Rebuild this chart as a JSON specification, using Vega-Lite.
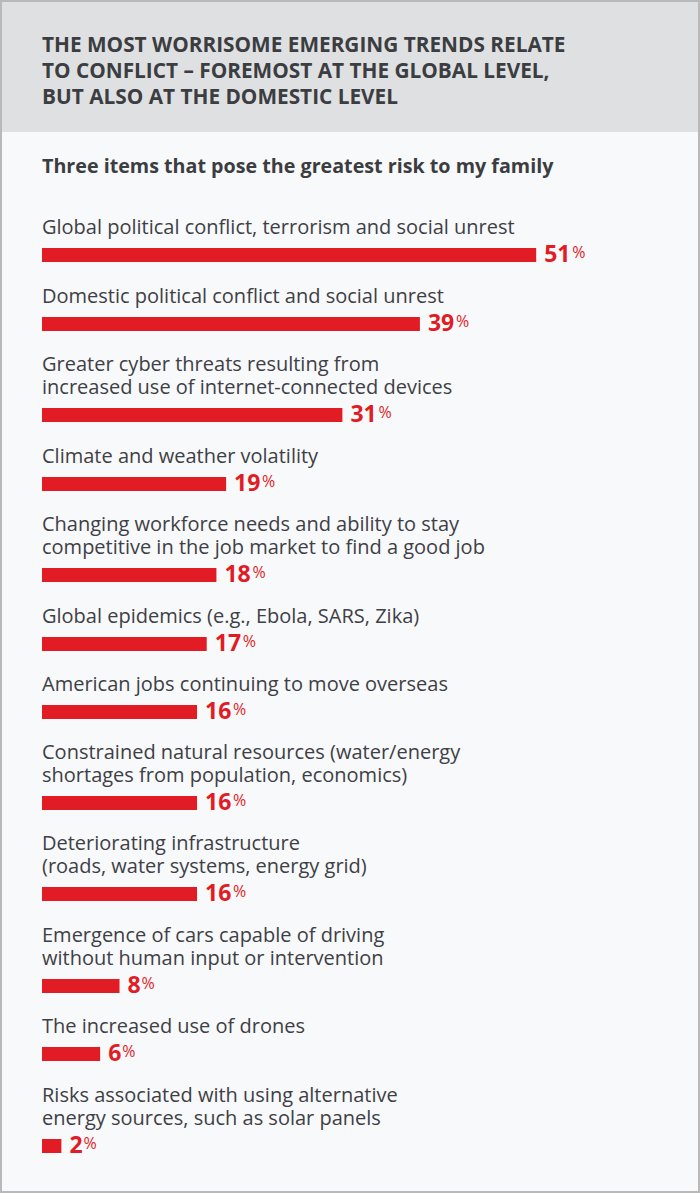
{
  "$schema": "https://vega.github.io/schema/vega-lite/v6.json",
  "background": "#b9b9b9",
  "padding": 2,
  "spacing": 0,
  "bounds": "flush",
  "data": {"values": [
    {"label": "Global political conflict, terrorism and social unrest", "value": 51},
    {"label": "Domestic political conflict and social unrest", "value": 39},
    {"label": "Greater cyber threats resulting from|increased use of internet-connected devices", "value": 31},
    {"label": "Climate and weather volatility", "value": 19},
    {"label": "Changing workforce needs and ability to stay|competitive in the job market to find a good job", "value": 18},
    {"label": "Global epidemics (e.g., Ebola, SARS, Zika)", "value": 17},
    {"label": "American jobs continuing to move overseas", "value": 16},
    {"label": "Constrained natural resources (water/energy|shortages from population, economics)", "value": 16},
    {"label": "Deteriorating infrastructure|(roads, water systems, energy grid)", "value": 16},
    {"label": "Emergence of cars capable of driving|without human input or intervention", "value": 8},
    {"label": "The increased use of drones", "value": 6},
    {"label": "Risks associated with using alternative|energy sources, such as solar panels", "value": 2}
  ]},
  "transform": [{"window": [{"op": "row_number", "as": "rank"}]}],
  "vconcat": [
    {
      "width": 696, "height": 130,
      "view": {"fill": "#dfe0e2", "stroke": null},
      "title": {"text": ["THE MOST WORRISOME EMERGING TRENDS RELATE", "TO CONFLICT – FOREMOST AT THE GLOBAL LEVEL,", "BUT ALSO AT THE DOMESTIC LEVEL"], "anchor": "start", "frame": "group", "dx": 40, "offset": -107, "fontSize": 20.8, "font": "Open Sans", "fontWeight": "bold", "color": "#3b3d41", "lineHeight": 26},
      "data": {"values": []},
      "mark": {"type": "text"},
      "encoding": {}
    },
    {
      "width": 696, "height": 130,
      "title": {"text": "Three items that pose the greatest risk to my family", "anchor": "start", "frame": "group", "dx": 40, "offset": -45, "fontSize": 19.7, "font": "Open Sans", "fontWeight": "bold", "color": "#3b3d41"},
      "transform": [{"filter": "datum.rank == 1"}],
      "encoding": {
        "x": {"field": "value", "type": "quantitative", "axis": null, "scale": {"domain": [-4.128, 67.699], "nice": false, "zero": false}},
        "y": {"field": "label", "type": "nominal", "axis": null, "scale": {"paddingInner": 0.758621, "paddingOuter": 1, "align": 1}}
      },
      "layer": [
        {"mark": {"type": "bar", "color": "#e21c25"}, "encoding": {"x2": {"datum": 0}}},
        {"mark": {"type": "text", "align": "left", "baseline": "alphabetic", "dy": -21, "lineBreak": "|", "lineHeight": 23, "fontSize": 20, "font": "Open Sans", "color": "#3e4045"}, "encoding": {"x": {"datum": 0}, "text": {"field": "label"}}},
        {"mark": {"type": "text", "align": "left", "baseline": "alphabetic", "dx": 8, "dy": 7, "fontSize": 23, "fontWeight": "bold", "font": "Open Sans", "color": "#e21c25"}, "encoding": {"text": {"field": "value"}}},
        {"mark": {"type": "text", "align": "left", "baseline": "alphabetic", "dx": 36, "dy": 3, "fontSize": 16, "font": "Open Sans", "color": "#e21c25"}, "encoding": {"text": {"value": "%"}}}
      ]
    },
    {
      "width": 696, "height": 69,
      "transform": [{"filter": "datum.rank == 2"}],
      "encoding": {
        "x": {"field": "value", "type": "quantitative", "axis": null, "scale": {"domain": [-4.128, 67.699], "nice": false, "zero": false}},
        "y": {"field": "label", "type": "nominal", "axis": null, "scale": {"paddingInner": 0.490909, "paddingOuter": 1, "align": 1}}
      },
      "layer": [
        {"mark": {"type": "bar", "color": "#e21c25"}, "encoding": {"x2": {"datum": 0}}},
        {"mark": {"type": "text", "align": "left", "baseline": "alphabetic", "dy": -21, "lineBreak": "|", "lineHeight": 23, "fontSize": 20, "font": "Open Sans", "color": "#3e4045"}, "encoding": {"x": {"datum": 0}, "text": {"field": "label"}}},
        {"mark": {"type": "text", "align": "left", "baseline": "alphabetic", "dx": 8, "dy": 7, "fontSize": 23, "fontWeight": "bold", "font": "Open Sans", "color": "#e21c25"}, "encoding": {"text": {"field": "value"}}},
        {"mark": {"type": "text", "align": "left", "baseline": "alphabetic", "dx": 36, "dy": 3, "fontSize": 16, "font": "Open Sans", "color": "#e21c25"}, "encoding": {"text": {"value": "%"}}}
      ]
    },
    {
      "width": 696, "height": 91,
      "transform": [{"filter": "datum.rank == 3"}],
      "encoding": {
        "x": {"field": "value", "type": "quantitative", "axis": null, "scale": {"domain": [-4.128, 67.699], "nice": false, "zero": false}},
        "y": {"field": "label", "type": "nominal", "axis": null, "scale": {"paddingInner": 0.636364, "paddingOuter": 1, "align": 1}}
      },
      "layer": [
        {"mark": {"type": "bar", "color": "#e21c25"}, "encoding": {"x2": {"datum": 0}}},
        {"mark": {"type": "text", "align": "left", "baseline": "alphabetic", "dy": -44, "lineBreak": "|", "lineHeight": 23, "fontSize": 20, "font": "Open Sans", "color": "#3e4045"}, "encoding": {"x": {"datum": 0}, "text": {"field": "label"}}},
        {"mark": {"type": "text", "align": "left", "baseline": "alphabetic", "dx": 8, "dy": 7, "fontSize": 23, "fontWeight": "bold", "font": "Open Sans", "color": "#e21c25"}, "encoding": {"text": {"field": "value"}}},
        {"mark": {"type": "text", "align": "left", "baseline": "alphabetic", "dx": 36, "dy": 3, "fontSize": 16, "font": "Open Sans", "color": "#e21c25"}, "encoding": {"text": {"value": "%"}}}
      ]
    },
    {
      "width": 696, "height": 69,
      "transform": [{"filter": "datum.rank == 4"}],
      "encoding": {
        "x": {"field": "value", "type": "quantitative", "axis": null, "scale": {"domain": [-4.128, 67.699], "nice": false, "zero": false}},
        "y": {"field": "label", "type": "nominal", "axis": null, "scale": {"paddingInner": 0.490909, "paddingOuter": 1, "align": 1}}
      },
      "layer": [
        {"mark": {"type": "bar", "color": "#e21c25"}, "encoding": {"x2": {"datum": 0}}},
        {"mark": {"type": "text", "align": "left", "baseline": "alphabetic", "dy": -21, "lineBreak": "|", "lineHeight": 23, "fontSize": 20, "font": "Open Sans", "color": "#3e4045"}, "encoding": {"x": {"datum": 0}, "text": {"field": "label"}}},
        {"mark": {"type": "text", "align": "left", "baseline": "alphabetic", "dx": 8, "dy": 7, "fontSize": 23, "fontWeight": "bold", "font": "Open Sans", "color": "#e21c25"}, "encoding": {"text": {"field": "value"}}},
        {"mark": {"type": "text", "align": "left", "baseline": "alphabetic", "dx": 36, "dy": 3, "fontSize": 16, "font": "Open Sans", "color": "#e21c25"}, "encoding": {"text": {"value": "%"}}}
      ]
    },
    {
      "width": 696, "height": 91,
      "transform": [{"filter": "datum.rank == 5"}],
      "encoding": {
        "x": {"field": "value", "type": "quantitative", "axis": null, "scale": {"domain": [-4.128, 67.699], "nice": false, "zero": false}},
        "y": {"field": "label", "type": "nominal", "axis": null, "scale": {"paddingInner": 0.636364, "paddingOuter": 1, "align": 1}}
      },
      "layer": [
        {"mark": {"type": "bar", "color": "#e21c25"}, "encoding": {"x2": {"datum": 0}}},
        {"mark": {"type": "text", "align": "left", "baseline": "alphabetic", "dy": -44, "lineBreak": "|", "lineHeight": 23, "fontSize": 20, "font": "Open Sans", "color": "#3e4045"}, "encoding": {"x": {"datum": 0}, "text": {"field": "label"}}},
        {"mark": {"type": "text", "align": "left", "baseline": "alphabetic", "dx": 8, "dy": 7, "fontSize": 23, "fontWeight": "bold", "font": "Open Sans", "color": "#e21c25"}, "encoding": {"text": {"field": "value"}}},
        {"mark": {"type": "text", "align": "left", "baseline": "alphabetic", "dx": 36, "dy": 3, "fontSize": 16, "font": "Open Sans", "color": "#e21c25"}, "encoding": {"text": {"value": "%"}}}
      ]
    },
    {
      "width": 696, "height": 69,
      "transform": [{"filter": "datum.rank == 6"}],
      "encoding": {
        "x": {"field": "value", "type": "quantitative", "axis": null, "scale": {"domain": [-4.128, 67.699], "nice": false, "zero": false}},
        "y": {"field": "label", "type": "nominal", "axis": null, "scale": {"paddingInner": 0.490909, "paddingOuter": 1, "align": 1}}
      },
      "layer": [
        {"mark": {"type": "bar", "color": "#e21c25"}, "encoding": {"x2": {"datum": 0}}},
        {"mark": {"type": "text", "align": "left", "baseline": "alphabetic", "dy": -21, "lineBreak": "|", "lineHeight": 23, "fontSize": 20, "font": "Open Sans", "color": "#3e4045"}, "encoding": {"x": {"datum": 0}, "text": {"field": "label"}}},
        {"mark": {"type": "text", "align": "left", "baseline": "alphabetic", "dx": 8, "dy": 7, "fontSize": 23, "fontWeight": "bold", "font": "Open Sans", "color": "#e21c25"}, "encoding": {"text": {"field": "value"}}},
        {"mark": {"type": "text", "align": "left", "baseline": "alphabetic", "dx": 36, "dy": 3, "fontSize": 16, "font": "Open Sans", "color": "#e21c25"}, "encoding": {"text": {"value": "%"}}}
      ]
    },
    {
      "width": 696, "height": 68,
      "transform": [{"filter": "datum.rank == 7"}],
      "encoding": {
        "x": {"field": "value", "type": "quantitative", "axis": null, "scale": {"domain": [-4.128, 67.699], "nice": false, "zero": false}},
        "y": {"field": "label", "type": "nominal", "axis": null, "scale": {"paddingInner": 0.481481, "paddingOuter": 1, "align": 1}}
      },
      "layer": [
        {"mark": {"type": "bar", "color": "#e21c25"}, "encoding": {"x2": {"datum": 0}}},
        {"mark": {"type": "text", "align": "left", "baseline": "alphabetic", "dy": -21, "lineBreak": "|", "lineHeight": 23, "fontSize": 20, "font": "Open Sans", "color": "#3e4045"}, "encoding": {"x": {"datum": 0}, "text": {"field": "label"}}},
        {"mark": {"type": "text", "align": "left", "baseline": "alphabetic", "dx": 8, "dy": 7, "fontSize": 23, "fontWeight": "bold", "font": "Open Sans", "color": "#e21c25"}, "encoding": {"text": {"field": "value"}}},
        {"mark": {"type": "text", "align": "left", "baseline": "alphabetic", "dx": 36, "dy": 3, "fontSize": 16, "font": "Open Sans", "color": "#e21c25"}, "encoding": {"text": {"value": "%"}}}
      ]
    },
    {
      "width": 696, "height": 91,
      "transform": [{"filter": "datum.rank == 8"}],
      "encoding": {
        "x": {"field": "value", "type": "quantitative", "axis": null, "scale": {"domain": [-4.128, 67.699], "nice": false, "zero": false}},
        "y": {"field": "label", "type": "nominal", "axis": null, "scale": {"paddingInner": 0.636364, "paddingOuter": 1, "align": 1}}
      },
      "layer": [
        {"mark": {"type": "bar", "color": "#e21c25"}, "encoding": {"x2": {"datum": 0}}},
        {"mark": {"type": "text", "align": "left", "baseline": "alphabetic", "dy": -44, "lineBreak": "|", "lineHeight": 23, "fontSize": 20, "font": "Open Sans", "color": "#3e4045"}, "encoding": {"x": {"datum": 0}, "text": {"field": "label"}}},
        {"mark": {"type": "text", "align": "left", "baseline": "alphabetic", "dx": 8, "dy": 7, "fontSize": 23, "fontWeight": "bold", "font": "Open Sans", "color": "#e21c25"}, "encoding": {"text": {"field": "value"}}},
        {"mark": {"type": "text", "align": "left", "baseline": "alphabetic", "dx": 36, "dy": 3, "fontSize": 16, "font": "Open Sans", "color": "#e21c25"}, "encoding": {"text": {"value": "%"}}}
      ]
    },
    {
      "width": 696, "height": 91,
      "transform": [{"filter": "datum.rank == 9"}],
      "encoding": {
        "x": {"field": "value", "type": "quantitative", "axis": null, "scale": {"domain": [-4.128, 67.699], "nice": false, "zero": false}},
        "y": {"field": "label", "type": "nominal", "axis": null, "scale": {"paddingInner": 0.636364, "paddingOuter": 1, "align": 1}}
      },
      "layer": [
        {"mark": {"type": "bar", "color": "#e21c25"}, "encoding": {"x2": {"datum": 0}}},
        {"mark": {"type": "text", "align": "left", "baseline": "alphabetic", "dy": -44, "lineBreak": "|", "lineHeight": 23, "fontSize": 20, "font": "Open Sans", "color": "#3e4045"}, "encoding": {"x": {"datum": 0}, "text": {"field": "label"}}},
        {"mark": {"type": "text", "align": "left", "baseline": "alphabetic", "dx": 8, "dy": 7, "fontSize": 23, "fontWeight": "bold", "font": "Open Sans", "color": "#e21c25"}, "encoding": {"text": {"field": "value"}}},
        {"mark": {"type": "text", "align": "left", "baseline": "alphabetic", "dx": 36, "dy": 3, "fontSize": 16, "font": "Open Sans", "color": "#e21c25"}, "encoding": {"text": {"value": "%"}}}
      ]
    },
    {
      "width": 696, "height": 92,
      "transform": [{"filter": "datum.rank == 10"}],
      "encoding": {
        "x": {"field": "value", "type": "quantitative", "axis": null, "scale": {"domain": [-4.128, 67.699], "nice": false, "zero": false}},
        "y": {"field": "label", "type": "nominal", "axis": null, "scale": {"paddingInner": 0.641026, "paddingOuter": 1, "align": 1}}
      },
      "layer": [
        {"mark": {"type": "bar", "color": "#e21c25"}, "encoding": {"x2": {"datum": 0}}},
        {"mark": {"type": "text", "align": "left", "baseline": "alphabetic", "dy": -44, "lineBreak": "|", "lineHeight": 23, "fontSize": 20, "font": "Open Sans", "color": "#3e4045"}, "encoding": {"x": {"datum": 0}, "text": {"field": "label"}}},
        {"mark": {"type": "text", "align": "left", "baseline": "alphabetic", "dx": 8, "dy": 7, "fontSize": 23, "fontWeight": "bold", "font": "Open Sans", "color": "#e21c25"}, "encoding": {"text": {"field": "value"}}},
        {"mark": {"type": "text", "align": "left", "baseline": "alphabetic", "dx": 22, "dy": 3, "fontSize": 16, "font": "Open Sans", "color": "#e21c25"}, "encoding": {"text": {"value": "%"}}}
      ]
    },
    {
      "width": 696, "height": 68,
      "transform": [{"filter": "datum.rank == 11"}],
      "encoding": {
        "x": {"field": "value", "type": "quantitative", "axis": null, "scale": {"domain": [-4.128, 67.699], "nice": false, "zero": false}},
        "y": {"field": "label", "type": "nominal", "axis": null, "scale": {"paddingInner": 0.481481, "paddingOuter": 1, "align": 1}}
      },
      "layer": [
        {"mark": {"type": "bar", "color": "#e21c25"}, "encoding": {"x2": {"datum": 0}}},
        {"mark": {"type": "text", "align": "left", "baseline": "alphabetic", "dy": -21, "lineBreak": "|", "lineHeight": 23, "fontSize": 20, "font": "Open Sans", "color": "#3e4045"}, "encoding": {"x": {"datum": 0}, "text": {"field": "label"}}},
        {"mark": {"type": "text", "align": "left", "baseline": "alphabetic", "dx": 8, "dy": 7, "fontSize": 23, "fontWeight": "bold", "font": "Open Sans", "color": "#e21c25"}, "encoding": {"text": {"field": "value"}}},
        {"mark": {"type": "text", "align": "left", "baseline": "alphabetic", "dx": 22, "dy": 3, "fontSize": 16, "font": "Open Sans", "color": "#e21c25"}, "encoding": {"text": {"value": "%"}}}
      ]
    },
    {
      "width": 696, "height": 130,
      "transform": [{"filter": "datum.rank == 12"}],
      "encoding": {
        "x": {"field": "value", "type": "quantitative", "axis": null, "scale": {"domain": [-4.128, 67.699], "nice": false, "zero": false}},
        "y": {"field": "label", "type": "nominal", "axis": null, "scale": {"paddingInner": 0.758621, "paddingOuter": 1, "align": 0.67241}}
      },
      "layer": [
        {"mark": {"type": "bar", "color": "#e21c25"}, "encoding": {"x2": {"datum": 0}}},
        {"mark": {"type": "text", "align": "left", "baseline": "alphabetic", "dy": -44, "lineBreak": "|", "lineHeight": 23, "fontSize": 20, "font": "Open Sans", "color": "#3e4045"}, "encoding": {"x": {"datum": 0}, "text": {"field": "label"}}},
        {"mark": {"type": "text", "align": "left", "baseline": "alphabetic", "dx": 8, "dy": 7, "fontSize": 23, "fontWeight": "bold", "font": "Open Sans", "color": "#e21c25"}, "encoding": {"text": {"field": "value"}}},
        {"mark": {"type": "text", "align": "left", "baseline": "alphabetic", "dx": 22, "dy": 3, "fontSize": 16, "font": "Open Sans", "color": "#e21c25"}, "encoding": {"text": {"value": "%"}}}
      ]
    }
  ],
  "config": {
    "view": {"stroke": null, "fill": "#f8f9fb"},
    "font": "Open Sans"
  }
}
